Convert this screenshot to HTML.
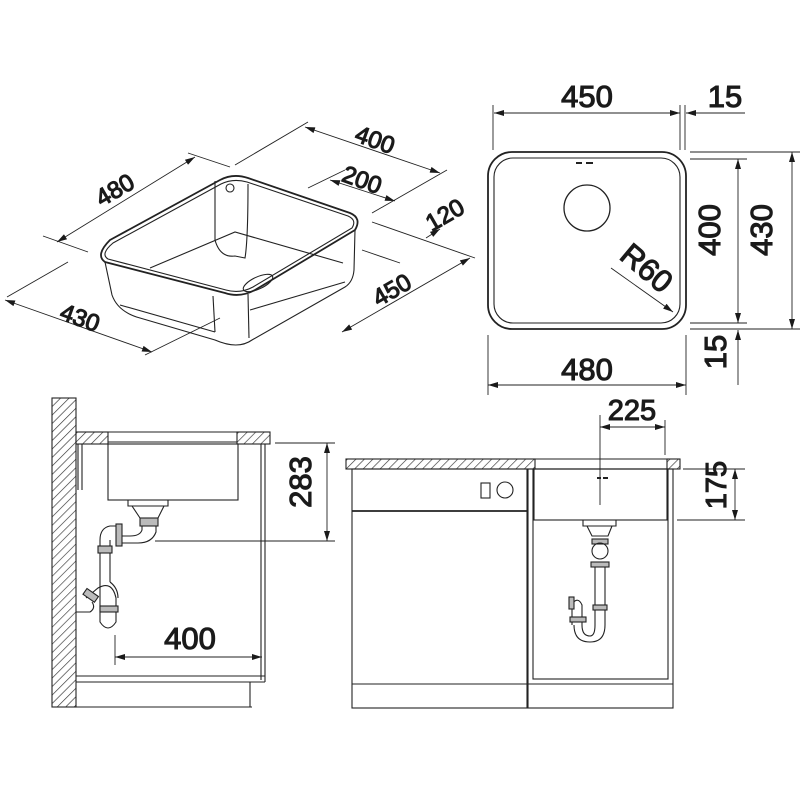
<!DOCTYPE html>
<html><head><meta charset="utf-8"><style>
html,body{margin:0;padding:0;background:#fff}
svg{display:block}
text{font-family:"Liberation Sans",sans-serif;fill:#1a1a1a;stroke:#1a1a1a;stroke-width:1.1}
</style></head><body>
<svg width="800" height="800" viewBox="0 0 800 800" xmlns="http://www.w3.org/2000/svg">
<defs>
<pattern id="h" width="6" height="6" patternUnits="userSpaceOnUse" patternTransform="rotate(45)">
<rect width="6" height="6" fill="#fff"/><line x1="0" y1="0" x2="0" y2="6" stroke="#333" stroke-width="1.3"/>
</pattern>
<marker id="a" viewBox="0 0 10 6" refX="10" refY="3" markerWidth="11" markerHeight="6" orient="auto-start-reverse" markerUnits="userSpaceOnUse">
<path d="M0,0 L10,3 L0,6 Z" fill="#1a1a1a"/></marker>
</defs>
<g fill="none" stroke="#222" stroke-width="1.1">

<!-- ISO SINK -->
<path d="M110,240 L220,180 Q233,173 248,178 L350,213 Q362,218 355,230 L255,290 Q240,298 225,293 L105,262 Q95,255 110,240 Z" stroke-width="1.8"/>
<path d="M113,243 L221,184 Q233,178 247,182 L348,216 Q357,220 352,228 L253,287 Q240,294 226,290 L108,259 Q100,254 113,243 Z"/>
<path d="M105,262 L112,295 Q118,312 140,318 L215,340 Q238,350 252,340 L345,287 Q353,282 354,270 L355,230"/>
<path d="M213,296 L215,332"/><path d="M248,294 L249,338"/>
<path d="M215,181 L215,240 Q220,258 235,256 L245,258 Q248,240 248,184"/>
<path d="M150,268 L235,232 L343,263"/>
<ellipse cx="258" cy="283" rx="16" ry="6" transform="rotate(-25 258 283)"/>
<circle cx="230" cy="188" r="4"/>
<path d="M120,305 L215,332"/><path d="M250,310 L345,282"/>
</g>
<g fill="none" stroke="#222" stroke-width="0.9">
<line x1="57" y1="242" x2="195" y2="157" marker-start="url(#a)" marker-end="url(#a)"/>
<line x1="43" y1="236" x2="88" y2="252"/><line x1="188" y1="153" x2="230" y2="167"/>
<line x1="305" y1="127" x2="440" y2="173" marker-start="url(#a)" marker-end="url(#a)"/>
<line x1="235" y1="165" x2="308" y2="122"/><line x1="372" y1="213" x2="447" y2="170"/>
<line x1="330" y1="180" x2="395" y2="201" marker-start="url(#a)" marker-end="url(#a)"/>
<line x1="308" y1="188" x2="345" y2="170"/>
<line x1="372" y1="222" x2="475" y2="258"/><line x1="362" y1="250" x2="400" y2="263"/>
<line x1="426" y1="238" x2="440" y2="229" marker-end="url(#a)"/>
<line x1="342" y1="332" x2="470" y2="258" marker-start="url(#a)" marker-end="url(#a)"/>
<line x1="5" y1="300" x2="152" y2="352" marker-start="url(#a)" marker-end="url(#a)"/>
<line x1="7" y1="297" x2="68" y2="262"/><line x1="145" y1="355" x2="220" y2="318"/>
</g>
<g font-size="24">
<text x="115" y="198" text-anchor="middle" transform="rotate(-30 115 190)">480</text>
<text x="375" y="148" text-anchor="middle" transform="rotate(20 375 140)">400</text>
<text x="362" y="188" text-anchor="middle" transform="rotate(20 362 180)">200</text>
<text x="445" y="223" text-anchor="middle" transform="rotate(-30 445 215)">120</text>
<text x="392" y="298" text-anchor="middle" transform="rotate(-30 392 290)">450</text>
<text x="80" y="326" text-anchor="middle" transform="rotate(20 80 318)">430</text>
</g>

<!-- PLAN VIEW -->
<g fill="none" stroke="#222">
<rect x="488" y="152" width="198" height="177" rx="24" stroke-width="1.8"/>
<rect x="494" y="158" width="186" height="165" rx="19" stroke-width="1.1"/>
<circle cx="587" cy="208" r="23" stroke-width="1.3"/>
<line x1="576" y1="163" x2="582" y2="163" stroke-width="2"/><line x1="586" y1="163" x2="593" y2="163" stroke-width="2"/>
<g stroke-width="0.9">
<line x1="494" y1="113" x2="680" y2="113" marker-start="url(#a)" marker-end="url(#a)"/>
<line x1="493" y1="105" x2="493" y2="150"/><line x1="680" y1="105" x2="680" y2="150"/><line x1="685" y1="105" x2="685" y2="150"/>
<line x1="745" y1="113" x2="686" y2="113" marker-end="url(#a)"/>
<line x1="738" y1="159" x2="738" y2="323" marker-start="url(#a)" marker-end="url(#a)"/>
<line x1="792" y1="152" x2="792" y2="329" marker-start="url(#a)" marker-end="url(#a)"/>
<line x1="690" y1="152" x2="800" y2="152"/><line x1="690" y1="159" x2="747" y2="159"/>
<line x1="690" y1="323" x2="747" y2="323"/><line x1="690" y1="329" x2="800" y2="329"/>
<line x1="738" y1="385" x2="738" y2="330" marker-end="url(#a)"/>
<line x1="488" y1="385" x2="686" y2="385" marker-start="url(#a)" marker-end="url(#a)"/>
<line x1="488" y1="335" x2="488" y2="395"/><line x1="686" y1="335" x2="686" y2="395"/>
<line x1="611" y1="268" x2="673" y2="312" marker-end="url(#a)"/>
</g></g>
<g font-size="31">
<text x="587" y="107" text-anchor="middle">450</text>
<text x="725" y="107" text-anchor="middle">15</text>
<text x="587" y="380" text-anchor="middle">480</text>
<text x="730" y="240" text-anchor="middle" transform="rotate(-90 720 240)">400</text>
<text x="782" y="240" text-anchor="middle" transform="rotate(-90 772 240)">430</text>
<text x="736" y="362" text-anchor="middle" transform="rotate(-90 726 362)">15</text>
<text x="645" y="278" text-anchor="middle" transform="rotate(40 645 270)">R60</text>
</g>

<!-- SIDE VIEW LEFT -->
<g stroke="#222" fill="none" stroke-width="1.1">
<rect x="52" y="398" width="24" height="309" fill="url(#h)"/>
<rect x="76" y="432" width="32" height="12" fill="url(#h)"/>
<rect x="237" y="432" width="33" height="12" fill="url(#h)"/>
<line x1="108" y1="432" x2="237" y2="432"/><line x1="108" y1="442" x2="237" y2="442"/>
<rect x="108" y="444" width="130" height="56"/>
<line x1="78" y1="444" x2="78" y2="490"/><line x1="82" y1="444" x2="82" y2="490"/>
<line x1="261" y1="444" x2="261" y2="680"/><line x1="265" y1="444" x2="265" y2="682"/>
<line x1="76" y1="676" x2="265" y2="676"/><line x1="76" y1="682" x2="265" y2="682"/>
<line x1="250" y1="682" x2="250" y2="707"/><line x1="52" y1="707" x2="252" y2="707"/>
<path d="M128,500 L128,506 L168,506 L168,500"/>
<path d="M132,506 L140,518 L158,518 L164,506"/>
<rect x="140" y="518" width="18" height="8" fill="#bbb"/>
<path d="M142,526 L142,530 Q140,536 130,536 L118,536 L118,526 L110,526 Q100,528 100,540 L100,600"/>
<path d="M156,526 L156,532 Q152,543 138,543 L118,543"/>
<rect x="116" y="524" width="6" height="22" fill="#bbb"/>
<path d="M110,540 L110,582"/>
<rect x="98" y="546" width="14" height="7" fill="#bbb"/>
<path d="M100,600 L100,622 Q108,634 116,622 L116,598 Q112,580 98,588 L86,598"/>
<path d="M110,582 Q118,588 118,598"/>
<rect x="100" y="606" width="18" height="6" fill="#bbb"/>
<path d="M76,612 L90,612 Q96,608 92,602"/>
<rect x="84" y="592" width="14" height="7" fill="#bbb" transform="rotate(35 91 595)"/>
<g stroke-width="0.9">
<line x1="275" y1="443" x2="335" y2="443"/><line x1="155" y1="541" x2="335" y2="541"/>
<line x1="327" y1="443" x2="327" y2="541" marker-start="url(#a)" marker-end="url(#a)"/>
<line x1="115" y1="657" x2="262" y2="657" marker-start="url(#a)" marker-end="url(#a)"/>
<line x1="115" y1="635" x2="115" y2="665"/>
</g></g>
<g font-size="31">
<text x="190" y="649" text-anchor="middle">400</text>
<text x="321" y="492" text-anchor="middle" transform="rotate(-90 311 492)">283</text>
</g>

<!-- FRONT VIEW RIGHT -->
<g stroke="#222" fill="none" stroke-width="1.1">
<rect x="346" y="459" width="189" height="10" fill="url(#h)"/>
<rect x="667" y="459" width="13" height="10" fill="url(#h)"/>
<line x1="535" y1="459" x2="667" y2="459"/><line x1="535" y1="469" x2="667" y2="469"/>
<rect x="352" y="469" width="175" height="239"/>
<line x1="352" y1="511" x2="527" y2="511" stroke-width="1.8"/>
<line x1="352" y1="684" x2="527" y2="684"/>
<rect x="481" y="483" width="9" height="15"/><circle cx="505" cy="490" r="8"/>
<rect x="528" y="469" width="145" height="239"/>
<rect x="533" y="469" width="135" height="210"/>
<line x1="528" y1="684" x2="673" y2="684"/>
<rect x="534" y="469" width="133" height="51"/>
<line x1="597" y1="478" x2="601" y2="478" stroke-width="2"/><line x1="603" y1="478" x2="608" y2="478" stroke-width="2"/>
<path d="M583,520 L583,526 L616,526 L616,520"/>
<path d="M587,526 L592,536 L608,536 L612,526"/>
<rect x="592" y="539" width="16" height="5" fill="#bbb"/>
<circle cx="600" cy="551" r="8"/>
<rect x="591" y="562" width="18" height="5" fill="#bbb"/>
<path d="M595,567 L595,625 Q595,636 590,636 Q582,636 582,625 L582,605 Q578,596 572,604 L572,625"/>
<path d="M605,567 L605,625 Q605,642 590,642 Q574,642 574,625"/>
<rect x="593" y="605" width="14" height="5" fill="#bbb"/>
<rect x="570" y="617" width="16" height="5" fill="#bbb"/>
<rect x="569" y="597" width="5" height="12" fill="#bbb"/>
<g stroke-width="0.9">
<line x1="600" y1="415" x2="600" y2="505"/><line x1="665" y1="420" x2="665" y2="455"/>
<line x1="600" y1="427" x2="665" y2="427" marker-start="url(#a)" marker-end="url(#a)"/>
<line x1="683" y1="469" x2="745" y2="469"/><line x1="677" y1="520" x2="745" y2="520"/>
<line x1="735" y1="469" x2="735" y2="520" marker-start="url(#a)" marker-end="url(#a)"/>
</g></g>
<g font-size="29">
<text x="632" y="420" text-anchor="middle">225</text>
<text x="736" y="495" text-anchor="middle" transform="rotate(-90 726 495)">175</text>
</g>
</svg>
</body></html>
